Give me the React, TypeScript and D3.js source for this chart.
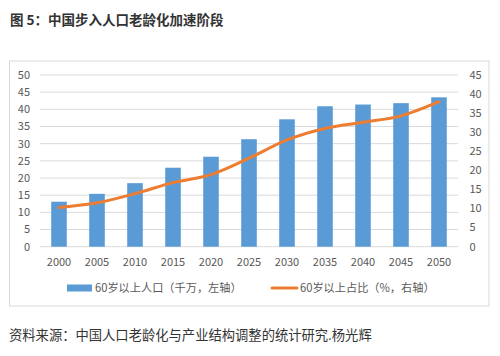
import React from "react";
import * as d3 from "d3";

const years = ["2000", "2005", "2010", "2015", "2020", "2025", "2030", "2035", "2040", "2045", "2050"];
const population = [13.1, 15.4, 18.5, 23.0, 26.2, 31.3, 37.1, 40.9, 41.4, 41.8, 43.5];
const share = [10.3, 11.5, 13.9, 16.8, 18.9, 23.2, 28.0, 31.0, 32.6, 34.3, 38.0];
const leftTicks = [0, 5, 10, 15, 20, 25, 30, 35, 40, 45, 50];
const rightTicks = [0, 5, 10, 15, 20, 25, 30, 35, 40, 45];
const title = "图 5：中国步入人口老龄化加速阶段";
const legendBar = "60岁以上人口（千万，左轴）";
const legendLine = "60岁以上占比（%，右轴）";
const source = "资料来源：中国人口老龄化与产业结构调整的统计研究.杨光辉";

const W = 500, H = 356;
const plot = { left: 40, right: 458, top: 75, bottom: 246.7 };
const font = "'Microsoft YaHei', 'Noto Sans CJK SC', sans-serif";
const textColor = "#595959";

export default function App() {
  const x = d3.scaleBand().domain(years).range([plot.left, plot.right]).paddingInner(0.59).paddingOuter(0.295);
  const yL = d3.scaleLinear().domain([0, 50]).range([plot.bottom, plot.top]);
  const yR = d3.scaleLinear().domain([0, 45]).range([plot.bottom, plot.top]);
  const cx = (d: string) => (x(d) as number) + x.bandwidth() / 2;
  const line = d3.line<number>().x((_, i) => cx(years[i])).y((d) => yR(d)).curve(d3.curveMonotoneX);

  return (
    <svg width={W} height={H} style={{ position: "absolute", left: 0, top: 0, background: "#fff" }} fontFamily={font}>
      <text x={10} y={25} fontSize={13.5} fontWeight="bold" fill="#333">{title}</text>
      <rect x={9.5} y={61} width={479.5} height={245} fill="none" stroke="#d9d9d9" strokeWidth={1} />
      {leftTicks.map((t) => (
        <g key={"l" + t}>
          <line x1={plot.left} x2={plot.right} y1={yL(t)} y2={yL(t)} stroke="#d9d9d9" strokeWidth={1} />
          <text x={30} y={yL(t)} dy="0.35em" textAnchor="end" fontSize={11} fill={textColor}>{t}</text>
        </g>
      ))}
      {rightTicks.map((t) => (
        <text key={"r" + t} x={469.5} y={yR(t)} dy="0.35em" textAnchor="start" fontSize={11} fill={textColor}>{t}</text>
      ))}
      {population.map((v, i) => (
        <rect key={years[i]} x={x(years[i])} y={yL(v)} width={x.bandwidth()} height={yL(0) - yL(v)} fill="#5b9bd5" />
      ))}
      <path d={line(share) || ""} fill="none" stroke="#ed7d31" strokeWidth={3} strokeLinecap="round" />
      {years.map((y) => (
        <text key={"x" + y} x={cx(y)} y={262} dy="0.35em" textAnchor="middle" fontSize={11} fill={textColor}>{y}</text>
      ))}
      <rect x={67} y={284.5} width={25} height={7} fill="#5b9bd5" />
      <text x={95} y={288} dy="0.35em" fontSize={11.2} fill={textColor}>{legendBar}</text>
      <line x1={272} x2={297} y1={288} y2={288} stroke="#ed7d31" strokeWidth={3} strokeLinecap="round" />
      <text x={300} y={288} dy="0.35em" fontSize={11.2} fill={textColor}>{legendLine}</text>
      <text x={9} y={335} dy="0.35em" fontSize={13.3} fill="#333">{source}</text>
    </svg>
  );
}
